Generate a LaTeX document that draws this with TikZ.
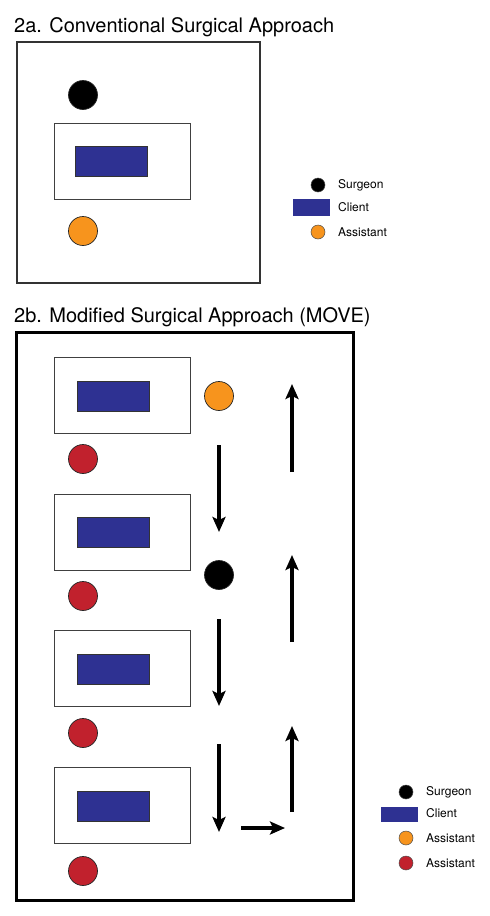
\documentclass[tikz,border=0pt]{standalone}
\usepackage{fontspec}
\setmainfont{TeX Gyre Heros}
\usepackage{xcolor}
\usetikzlibrary{arrows.meta}
\definecolor{clientblue}{RGB}{46,49,146}
\definecolor{asstorange}{RGB}{247,148,29}
\definecolor{asstred}{RGB}{193,33,45}

\begin{document}
\begin{tikzpicture}[x=1pt, y=-1pt, font=\fontsize{12}{14}\selectfont,
  move/.style={-{Stealth[length=15pt, width=13pt, inset=3pt]}, line width=3.6pt},
  title/.style={anchor=base west, inner sep=0pt, font=\fontsize{20}{24}\selectfont},
  room/.style={draw=black!80, line width=1.4pt, minimum width=243pt, minimum height=241pt, inner sep=0pt},
  bed/.style={draw=black!75, line width=1pt, minimum width=136pt, minimum height=76pt, inner sep=0pt},
  client/.style={draw=black!80, fill=clientblue, line width=0.8pt, minimum width=72pt, minimum height=30pt, inner sep=0pt},
  person/.style={circle, draw=black!85, line width=0.7pt, minimum size=29pt, inner sep=0pt},
  key/.style={circle, draw=black!70, line width=0.5pt, minimum size=14pt, inner sep=0pt},
  keytxt/.style={anchor=west, inner sep=0pt}]
\useasboundingbox (0,0) rectangle (490,916);
%% 2a. conventional approach
\begin{scope}
\node[title] (titleA) at (14,32) {2a. Conventional Surgical Approach};
\node[room] (roomA) at (138.3,162.3) {};
\node[person, fill=black] (surgA) at (83,95) {};
\node[bed] (bedA) at (122,161) {};
\node[client] (clientA) at (111,161.5) {};
\node[person, fill=asstorange] (asstA) at (83,231) {};
% legend
\node[key, fill=black] (kSurgA) at (318,185) {};
\node[keytxt] (tSurgA) at (338,185) {Surgeon};
\node[client, minimum width=36pt, minimum height=16pt, draw=clientblue] (kCliA) at (311,207) {};
\node[keytxt] (tCliA) at (338,207) {Client};
\node[key, fill=asstorange] (kAsstA) at (318,232) {};
\node[keytxt] (tAsstA) at (338,232) {Assistant};
\end{scope}
%% 2b. modified approach (MOVE)
\begin{scope}
\node[title] (titleB) at (14,322) {2b. Modified Surgical Approach (MOVE)};
\node[room, draw=black, line width=3pt, minimum width=337pt, minimum height=568pt] (roomB) at (184.5,616) {};
\node[bed] (bed1) at (122,395.5) {};
\node[bed] (bed2) at (122,532) {};
\node[bed] (bed3) at (122,668.5) {};
\node[bed] (bed4) at (122,805.5) {};
\node[client] (cli1) at (113,396) {};
\node[client] (cli2) at (113,532) {};
\node[client] (cli3) at (113,669) {};
\node[client] (cli4) at (113,806) {};
\node[person, fill=asstred] (red1) at (83,459) {};
\node[person, fill=asstred] (red2) at (83,596) {};
\node[person, fill=asstred] (red3) at (83,733) {};
\node[person, fill=asstred] (red4) at (83,871) {};
\node[person, fill=asstorange] (asstB) at (219,396) {};
\node[person, fill=black] (surgB) at (219,575) {};
% movement path
\coordinate (d1a) at (219,445); \coordinate (d1b) at (219,532);
\coordinate (d2a) at (219,619); \coordinate (d2b) at (219,706);
\coordinate (d3a) at (219,744); \coordinate (d3b) at (219,832);
\coordinate (ra) at (241,828); \coordinate (rb) at (285,828);
\coordinate (u1a) at (292,812); \coordinate (u1b) at (292,726);
\coordinate (u2a) at (292,642); \coordinate (u2b) at (292,555);
\coordinate (u3a) at (292,472); \coordinate (u3b) at (292,384);
\draw[move] (d1a) -- (d1b);
\draw[move] (d2a) -- (d2b);
\draw[move] (d3a) -- (d3b);
\draw[move] (ra) -- (rb);
\draw[move] (u1a) -- (u1b);
\draw[move] (u2a) -- (u2b);
\draw[move] (u3a) -- (u3b);
% legend
\node[key, fill=black] (kSurgB) at (406,792) {};
\node[keytxt] (tSurgB) at (426,792) {Surgeon};
\node[client, minimum width=36pt, minimum height=14pt, draw=clientblue] (kCliB) at (399,814) {};
\node[keytxt] (tCliB) at (426,813) {Client};
\node[key, fill=asstorange] (kAsstB) at (406,838) {};
\node[keytxt] (tAsstB) at (426,838) {Assistant};
\node[key, fill=asstred] (kRedB) at (406,863) {};
\node[keytxt] (tRedB) at (426,863) {Assistant};
\end{scope}
\end{tikzpicture}
\end{document}
